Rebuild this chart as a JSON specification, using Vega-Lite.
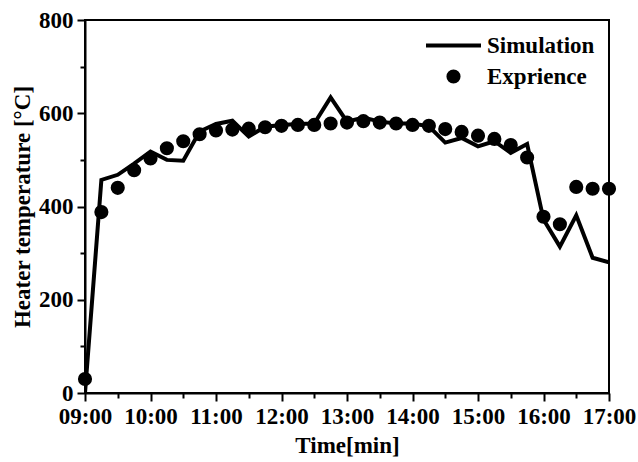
{
  "$schema": "https://vega.github.io/schema/vega-lite/v6.json",
  "autosize": "none",
  "width": 524,
  "height": 373,
  "padding": {"left": 85, "top": 20, "right": 29, "bottom": 69},
  "background": "white",
  "config": {
    "view": {"stroke": "black", "strokeWidth": 2},
    "axis": {
      "labelFont": "Liberation Serif",
      "labelFontWeight": "bold",
      "labelFontSize": 23,
      "labelColor": "black",
      "titleFont": "Liberation Serif",
      "titleFontWeight": "bold",
      "titleFontSize": 23,
      "titleColor": "black",
      "domainColor": "black",
      "domainWidth": 2,
      "tickColor": "black",
      "tickWidth": 2,
      "grid": false
    },
    "legend": {
      "labelFont": "Liberation Serif",
      "labelFontWeight": "bold",
      "labelFontSize": 23,
      "labelColor": "black"
    }
  },
  "data": {
    "values": [
      {"hour": 9.0, "series": "Simulation", "temp": 0},
      {"hour": 9.25, "series": "Simulation", "temp": 457},
      {"hour": 9.5, "series": "Simulation", "temp": 468},
      {"hour": 9.75, "series": "Simulation", "temp": 492},
      {"hour": 10.0, "series": "Simulation", "temp": 518},
      {"hour": 10.25, "series": "Simulation", "temp": 500},
      {"hour": 10.5, "series": "Simulation", "temp": 498},
      {"hour": 10.75, "series": "Simulation", "temp": 561},
      {"hour": 11.0, "series": "Simulation", "temp": 577},
      {"hour": 11.25, "series": "Simulation", "temp": 584},
      {"hour": 11.5, "series": "Simulation", "temp": 550},
      {"hour": 11.75, "series": "Simulation", "temp": 571},
      {"hour": 12.0, "series": "Simulation", "temp": 575},
      {"hour": 12.25, "series": "Simulation", "temp": 577},
      {"hour": 12.5, "series": "Simulation", "temp": 578},
      {"hour": 12.75, "series": "Simulation", "temp": 634},
      {"hour": 13.0, "series": "Simulation", "temp": 582},
      {"hour": 13.25, "series": "Simulation", "temp": 591},
      {"hour": 13.5, "series": "Simulation", "temp": 582},
      {"hour": 13.75, "series": "Simulation", "temp": 578},
      {"hour": 14.0, "series": "Simulation", "temp": 578},
      {"hour": 14.25, "series": "Simulation", "temp": 572},
      {"hour": 14.5, "series": "Simulation", "temp": 537},
      {"hour": 14.75, "series": "Simulation", "temp": 547},
      {"hour": 15.0, "series": "Simulation", "temp": 529},
      {"hour": 15.25, "series": "Simulation", "temp": 540},
      {"hour": 15.5, "series": "Simulation", "temp": 515},
      {"hour": 15.75, "series": "Simulation", "temp": 534},
      {"hour": 16.0, "series": "Simulation", "temp": 372},
      {"hour": 16.25, "series": "Simulation", "temp": 314},
      {"hour": 16.5, "series": "Simulation", "temp": 381},
      {"hour": 16.75, "series": "Simulation", "temp": 290},
      {"hour": 17.0, "series": "Simulation", "temp": 280},
      {"hour": 9.0, "series": "Exprience", "temp": 30},
      {"hour": 9.25, "series": "Exprience", "temp": 388},
      {"hour": 9.5, "series": "Exprience", "temp": 440},
      {"hour": 9.75, "series": "Exprience", "temp": 478},
      {"hour": 10.0, "series": "Exprience", "temp": 503},
      {"hour": 10.25, "series": "Exprience", "temp": 525},
      {"hour": 10.5, "series": "Exprience", "temp": 540},
      {"hour": 10.75, "series": "Exprience", "temp": 555},
      {"hour": 11.0, "series": "Exprience", "temp": 563},
      {"hour": 11.25, "series": "Exprience", "temp": 565},
      {"hour": 11.5, "series": "Exprience", "temp": 567},
      {"hour": 11.75, "series": "Exprience", "temp": 570},
      {"hour": 12.0, "series": "Exprience", "temp": 573},
      {"hour": 12.25, "series": "Exprience", "temp": 575},
      {"hour": 12.5, "series": "Exprience", "temp": 575},
      {"hour": 12.75, "series": "Exprience", "temp": 578},
      {"hour": 13.0, "series": "Exprience", "temp": 580},
      {"hour": 13.25, "series": "Exprience", "temp": 583},
      {"hour": 13.5, "series": "Exprience", "temp": 580},
      {"hour": 13.75, "series": "Exprience", "temp": 578},
      {"hour": 14.0, "series": "Exprience", "temp": 575},
      {"hour": 14.25, "series": "Exprience", "temp": 573},
      {"hour": 14.5, "series": "Exprience", "temp": 566},
      {"hour": 14.75, "series": "Exprience", "temp": 560},
      {"hour": 15.0, "series": "Exprience", "temp": 552},
      {"hour": 15.25, "series": "Exprience", "temp": 545},
      {"hour": 15.5, "series": "Exprience", "temp": 532},
      {"hour": 15.75, "series": "Exprience", "temp": 505},
      {"hour": 16.0, "series": "Exprience", "temp": 378},
      {"hour": 16.25, "series": "Exprience", "temp": 362},
      {"hour": 16.5, "series": "Exprience", "temp": 442},
      {"hour": 16.75, "series": "Exprience", "temp": 438},
      {"hour": 17.0, "series": "Exprience", "temp": 438}
    ]
  },
  "encoding": {
    "x": {
      "field": "hour",
      "type": "quantitative",
      "title": "Time[min]",
      "scale": {"domain": [9, 17], "nice": false, "zero": false},
      "axis": {
        "values": [9, 9.5, 10, 10.5, 11, 11.5, 12, 12.5, 13, 13.5, 14, 14.5, 15, 15.5, 16, 16.5, 17],
        "tickSize": {"condition": {"test": "datum.value % 1 != 0", "value": 5}, "value": 8},
        "labelExpr": "datum.value % 1 != 0 ? '' : (datum.value < 10 ? '0' : '') + datum.value + ':00'",
        "labelFont": "Liberation Serif",
        "labelFontWeight": "bold",
        "labelPadding": 4,
        "titlePadding": 6,
        "labelOverlap": false,
        "labelFlush": false
      }
    },
    "y": {
      "field": "temp",
      "type": "quantitative",
      "title": "Heater temperature [°C]",
      "scale": {"domain": [0, 800], "nice": false},
      "axis": {
        "values": [0, 100, 200, 300, 400, 500, 600, 700, 800],
        "tickSize": {"condition": {"test": "datum.value % 200 != 0", "value": 5}, "value": 8},
        "labelExpr": "datum.value % 200 == 0 ? datum.label : ''",
        "labelFont": "Liberation Serif",
        "labelFontWeight": "bold",
        "labelPadding": 4,
        "titlePadding": 4,
        "labelOverlap": false
      }
    },
    "color": {
      "field": "series",
      "type": "nominal",
      "scale": {"domain": ["Simulation", "Exprience"], "range": ["black", "black"]},
      "legend": {
        "title": null,
        "orient": "none",
        "legendX": 357,
        "legendY": 14,
        "symbolSize": 180,
        "symbolType": "circle",
        "labelOffset": 22,
        "rowPadding": 7,
        "encode": {
          "symbols": {
            "update": {
              "shape": {"signal": "datum.value == 'Simulation' ? 'stroke' : 'circle'"},
              "size": {"signal": "datum.value == 'Simulation' ? 3025 : 200"},
              "strokeWidth": {"signal": "datum.value == 'Simulation' ? 4 : 0"},
              "stroke": {"value": "black"},
              "fill": {"value": "black"}
            }
          }
        }
      }
    }
  },
  "layer": [
    {
      "transform": [{"filter": "datum.series == 'Simulation'"}],
      "mark": {"type": "line", "strokeWidth": 4, "clip": true}
    },
    {
      "transform": [{"filter": "datum.series == 'Exprience'"}],
      "mark": {"type": "point", "filled": true, "size": 200, "opacity": 1, "shape": "circle"}
    }
  ]
}
